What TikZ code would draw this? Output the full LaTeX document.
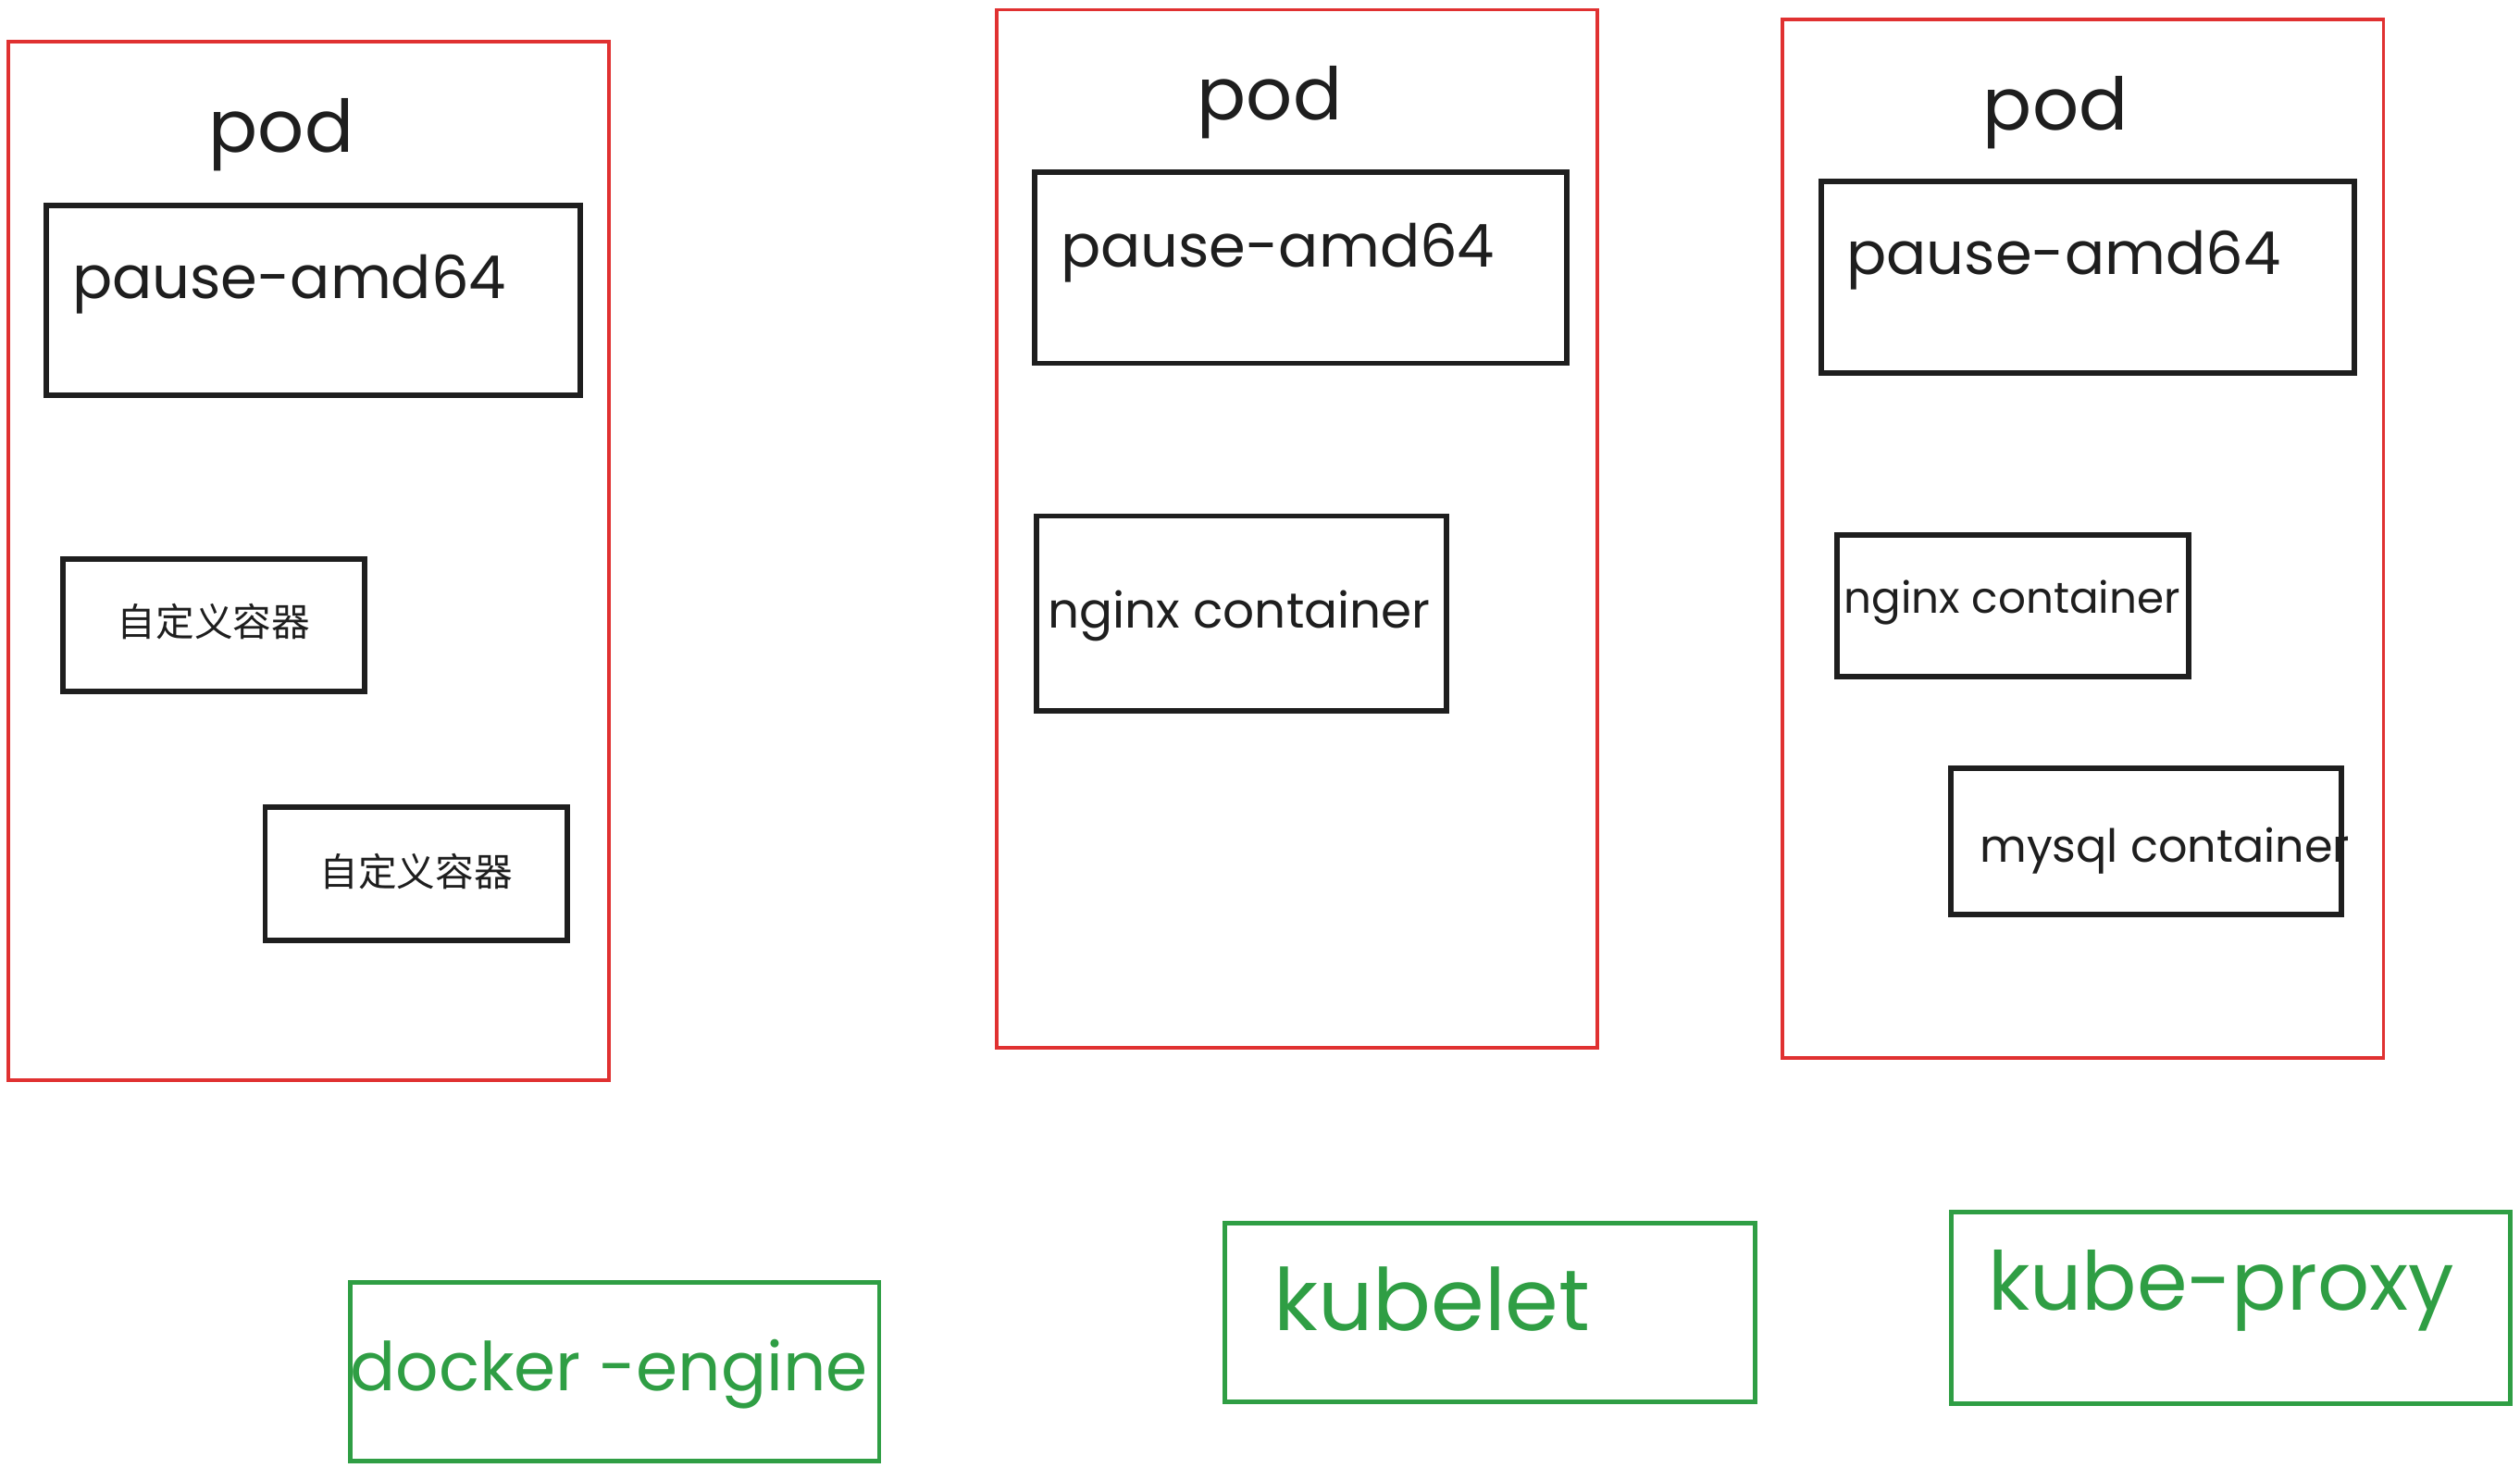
\documentclass[tikz,border=0pt]{standalone}
\usepackage{fontspec}
\setmainfont{Poppins}
\newfontfamily\cjk{Noto Sans CJK SC}
\usepackage{graphicx}
\definecolor{podred}{HTML}{E03131}
\definecolor{ink}{HTML}{1E1E1E}
\definecolor{grn}{HTML}{2F9E44}
\tikzset{
  podbox/.style={draw=podred, line width=2.2pt},
  blackbox/.style={draw=ink, line width=3.4pt},
  greenbox/.style={draw=grn, line width=2.8pt},
  lbl/.style={inner sep=0pt, text=ink},
  glbl/.style={inner sep=0pt, text=grn},
}
\newcommand{\fitw}[2]{\resizebox{#1pt}{!}{#2}}
\begin{document}
\begin{tikzpicture}[x=1pt,y=-1pt]
\useasboundingbox[fill=white] (0,0) rectangle (1568,912.7);
% pods
\draw[podbox] (5,26) rectangle (379,672);
\draw[podbox] (620,6) rectangle (994,652);
\draw[podbox] (1109,12) rectangle (1483,658);
% pod labels
\node[lbl] (pod1) at (175,84) {\fitw{90}{pod}};
\node[lbl] (pod2) at (790,64) {\fitw{90}{pod}};
\node[lbl] (pod3) at (1279,70) {\fitw{90}{pod}};
% pause boxes
\draw[blackbox] (29,128) rectangle (361,246);
\node[lbl] (pause1) at (180,177) {\fitw{270}{pause-amd64}};
\draw[blackbox] (644,107) rectangle (975,226);
\node[lbl] (pause2) at (795,157) {\fitw{270}{pause-amd64}};
\draw[blackbox] (1133,113) rectangle (1465,232);
\node[lbl] (pause3) at (1284,162) {\fitw{270}{pause-amd64}};
% custom containers
\draw[blackbox] (39,348) rectangle (227,430);
\node[lbl] (c1) at (133,387) {\cjk\fontsize{24}{28}\selectfont 自定义容器};
\draw[blackbox] (165,502) rectangle (353,585);
\node[lbl] (c2) at (259,542) {\cjk\fontsize{24}{28}\selectfont 自定义容器};
% nginx / mysql
\draw[blackbox] (645,321) rectangle (900,442);
\node[lbl] (ng2) at (771,383) {\fitw{238}{nginx container}};
\draw[blackbox] (1143,333) rectangle (1362,421);
\node[lbl] (ng3) at (1252,375) {\fitw{209}{nginx container}};
\draw[blackbox] (1214,478) rectangle (1457,569);
\node[lbl] (my3) at (1347,529) {\fitw{230}{mysql container}};
% green boxes
\draw[greenbox] (218,798) rectangle (547,909);
\node[glbl] (docker) at (379,855) {\fitw{322}{docker -engine}};
\draw[greenbox] (762,761) rectangle (1092,872);
\node[glbl] (kubelet) at (891,808) {\fitw{197}{kubelet}};
\draw[greenbox] (1214,754) rectangle (1562,873);
\node[glbl] (kproxy) at (1382,803) {\fitw{290}{kube-proxy}};
\end{tikzpicture}
\end{document}
